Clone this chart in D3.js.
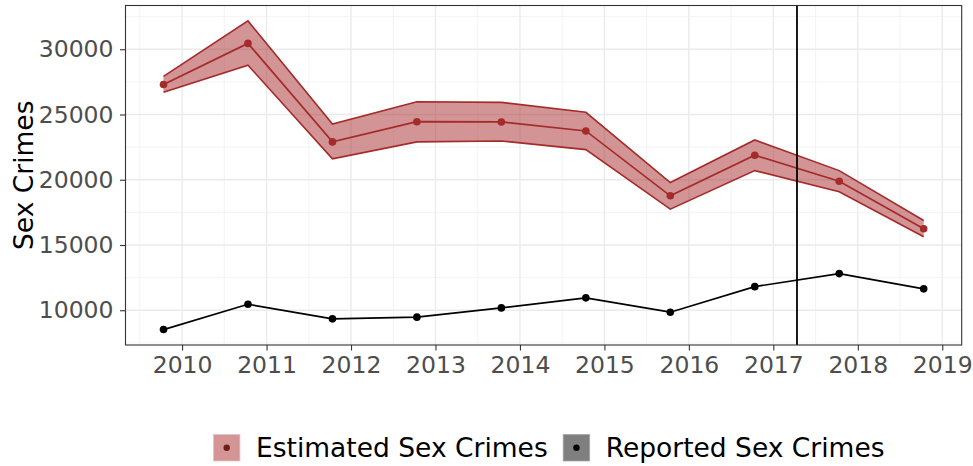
<!DOCTYPE html>
<html>
<head>
<meta charset="utf-8">
<script src="https://cdn.jsdelivr.net/npm/d3@7"></script>
<style>
  body { margin: 0; background: #fff; }
  svg { display: block; font-family: "DejaVu Sans", sans-serif; }
</style>
</head>
<body>
<svg width="973" height="466"></svg>
<script>
// points sit a bit before each year mark
const years = [2009.78, 2010.78, 2011.78, 2012.78, 2013.78, 2014.78, 2015.78, 2016.78, 2017.78, 2018.78];
const estimated = [27300, 30450, 22900, 24450, 24430, 23740, 18770, 21880, 19890, 16250];
const upper = [27920, 32170, 24270, 25980, 25930, 25170, 19790, 23050, 20700, 16880];
const lower = [26700, 28780, 21600, 22900, 22970, 22310, 17750, 20700, 19080, 15630];
const reported = [8520, 10460, 9340, 9470, 10180, 10950, 9850, 11810, 12810, 11640];
const cutoff = 2017.28;
const xTicks = [2010, 2011, 2012, 2013, 2014, 2015, 2016, 2017, 2018, 2019];
const yTicks = [10000, 15000, 20000, 25000, 30000];
const legendLabels = ['Estimated Sex Crimes', 'Reported Sex Crimes'];

const estColor = '#a52a2a';
const svg = d3.select('svg');
const panel = { left: 125.5, right: 961.7, top: 5.5, bottom: 345 };

// ggplot style 5% expansion
function expand(ext) {
  const pad = (ext[1] - ext[0]) * 0.05;
  return [ext[0] - pad, ext[1] + pad];
}
const x = d3.scaleLinear()
  .domain(expand(d3.extent(years)))
  .range([panel.left, panel.right]);
const y = d3.scaleLinear()
  .domain(expand(d3.extent(upper.concat(lower, reported))))
  .range([panel.bottom, panel.top]);

const rows = years.map((yr, i) => ({
  x: yr, est: estimated[i], hi: upper[i], lo: lower[i], rep: reported[i]
}));

// grid
const g = svg.append('g');
const xMinor = xTicks.map(t => t - 0.5).concat([2019.5]).filter(t => t > x.domain()[0] && t < x.domain()[1]);
const yMinor = [7500, 12500, 17500, 22500, 27500, 32500];
g.selectAll('.xminor').data(xMinor).join('line')
  .attr('x1', d => x(d)).attr('x2', d => x(d))
  .attr('y1', panel.top).attr('y2', panel.bottom)
  .attr('stroke', '#f0f0f0').attr('stroke-width', 0.8);
g.selectAll('.yminor').data(yMinor.filter(v => v > y.domain()[0] && v < y.domain()[1])).join('line')
  .attr('y1', d => y(d)).attr('y2', d => y(d))
  .attr('x1', panel.left).attr('x2', panel.right)
  .attr('stroke', '#f0f0f0').attr('stroke-width', 0.8);
g.selectAll('.xmajor').data(xTicks).join('line')
  .attr('x1', d => x(d)).attr('x2', d => x(d))
  .attr('y1', panel.top).attr('y2', panel.bottom)
  .attr('stroke', '#ebebeb').attr('stroke-width', 1.4);
g.selectAll('.ymajor').data(yTicks).join('line')
  .attr('y1', d => y(d)).attr('y2', d => y(d))
  .attr('x1', panel.left).attr('x2', panel.right)
  .attr('stroke', '#ebebeb').attr('stroke-width', 1.4);

// ribbon
svg.append('path')
  .datum(rows)
  .attr('d', d3.area().x(d => x(d.x)).y0(d => y(d.lo)).y1(d => y(d.hi)))
  .attr('fill', estColor).attr('fill-opacity', 0.5);
svg.append('path').datum(rows)
  .attr('d', d3.line().x(d => x(d.x)).y(d => y(d.hi)))
  .attr('fill', 'none').attr('stroke', estColor).attr('stroke-width', 1.6);
svg.append('path').datum(rows)
  .attr('d', d3.line().x(d => x(d.x)).y(d => y(d.lo)))
  .attr('fill', 'none').attr('stroke', estColor).attr('stroke-width', 1.6);

// estimated line + points
svg.append('path').datum(rows)
  .attr('d', d3.line().x(d => x(d.x)).y(d => y(d.est)))
  .attr('fill', 'none').attr('stroke', estColor).attr('stroke-width', 1.7);
svg.selectAll('.estpt').data(rows).join('circle')
  .attr('cx', d => x(d.x)).attr('cy', d => y(d.est)).attr('r', 3.8)
  .attr('fill', estColor);

// reported line + points
svg.append('path').datum(rows)
  .attr('d', d3.line().x(d => x(d.x)).y(d => y(d.rep)))
  .attr('fill', 'none').attr('stroke', '#000').attr('stroke-width', 1.7);
svg.selectAll('.reppt').data(rows).join('circle')
  .attr('cx', d => x(d.x)).attr('cy', d => y(d.rep)).attr('r', 3.8)
  .attr('fill', '#000');

// cutoff line
svg.append('line')
  .attr('x1', x(cutoff)).attr('x2', x(cutoff))
  .attr('y1', panel.top).attr('y2', panel.bottom)
  .attr('stroke', '#000').attr('stroke-width', 1.8);

// panel border
svg.append('rect')
  .attr('x', panel.left).attr('y', panel.top)
  .attr('width', panel.right - panel.left).attr('height', panel.bottom - panel.top)
  .attr('fill', 'none').attr('stroke', '#333').attr('stroke-width', 1.1);

// axes
const xAxis = svg.append('g')
  .attr('transform', `translate(0,${panel.bottom})`)
  .call(d3.axisBottom(x).tickValues(xTicks).tickFormat(d3.format('d')).tickSize(5.5).tickPadding(4.5));
const yAxis = svg.append('g')
  .attr('transform', `translate(${panel.left},0)`)
  .call(d3.axisLeft(y).tickValues(yTicks).tickFormat(d3.format('d')).tickSize(5.5).tickPadding(6.5));
[xAxis, yAxis].forEach(a => {
  a.select('.domain').remove();
  a.selectAll('.tick line').attr('stroke', '#333').attr('stroke-width', 1.1);
  a.selectAll('.tick text')
    .attr('fill', '#4d4d4d')
    .attr('font-size', '23.5px')
    .attr('font-family', '"DejaVu Sans", sans-serif');
});
xAxis.selectAll('.tick text').attr('dy', '0.78em');

svg.append('text')
  .attr('transform', `translate(33,${(panel.top + panel.bottom) / 2}) rotate(-90)`)
  .attr('text-anchor', 'middle')
  .attr('font-size', '26.5px')
  .attr('fill', '#000')
  .text('Sex Crimes');

// legend
const legend = svg.append('g');
const keyFill = ['#d39595', '#7f7f7f'];
const dotFill = ['#6e1c1c', '#000'];
let cx = 0;
legendLabels.forEach((lab, i) => {
  const it = legend.append('g').attr('transform', `translate(${cx},0)`);
  it.append('rect').attr('x', 0).attr('y', 434.5).attr('width', 26.5).attr('height', 26.5)
    .attr('fill', keyFill[i]).attr('stroke', i === 0 ? '#e8c4c4' : '#a8a8a8').attr('stroke-width', 0.8);
  it.append('circle').attr('cx', 13.25).attr('cy', 447.75).attr('r', 3.2).attr('fill', dotFill[i]);
  const t = it.append('text').attr('x', 42.5).attr('y', 457)
    .attr('font-size', '26.5px').attr('fill', '#000').text(lab);
  cx += 42.5 + t.node().getComputedTextLength() + 15.5;
});
const total = cx - 15.5;
legend.attr('transform', `translate(${549 - total / 2},0)`);
</script>
</body>
</html>
